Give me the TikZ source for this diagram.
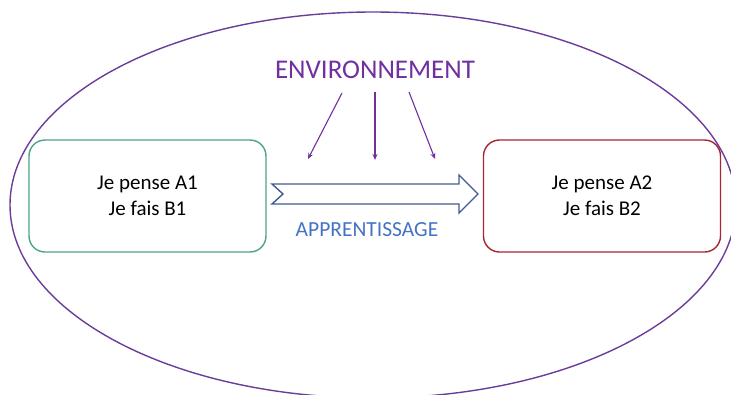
\documentclass[tikz,border=0pt]{standalone}
\usepackage{fontspec}
\setmainfont{Carlito}
\usetikzlibrary{arrows.meta}
\definecolor{envpurple}{HTML}{7030A0}
\definecolor{ringpurple}{HTML}{6A3D9A}
\definecolor{boxgreen}{HTML}{4DA38A}
\definecolor{boxred}{HTML}{A8262F}
\definecolor{learnblue}{HTML}{4472C4}
\definecolor{arrowblue}{HTML}{3F5B91}
\tikzset{
  statebox/.style={draw, line width=1.4pt, rounded corners=16pt,
    minimum width=237pt, minimum height=112pt, align=center,
    font=\fontsize{21}{26}\selectfont, text=black},
  envarrow/.style={draw=envpurple, line width=1.1pt,
    -{Stealth[length=6pt,width=5pt]}},
  blockarrow/.style={draw=arrowblue, line width=1.4pt, line join=miter, fill=white},
}
\begin{document}
\begin{tikzpicture}[x=1pt,y=-1pt]
\useasboundingbox (0,0) rectangle (731,394);
% surrounding environment
\draw[ringpurple, line width=1.4pt] (373,205) ellipse [x radius=363pt, y radius=193pt];
% the two states
\node[statebox, draw=boxgreen] (A) at (147.5,196) {Je pense A1\\Je fais B1};
\node[statebox, draw=boxred] (B) at (602,196) {Je pense A2\\Je fais B2};
% environment label and its influence
\node[text=envpurple, font=\fontsize{27}{30}\selectfont] (env) at (375,70) {ENVIRONNEMENT};
\coordinate (s1) at (342,93);
\coordinate (s2) at (375,92);
\coordinate (s3) at (409,92);
\coordinate (t1) at (308,159);
\coordinate (t2) at (375,160);
\coordinate (t3) at (435,159);
\draw[envarrow] (s1) -- (t1);
\draw[envarrow] (s2) -- (t2);
\draw[envarrow] (s3) -- (t3);
% learning block arrow from A to B
\draw[blockarrow] (272,184) -- (459,184) -- (459,175) -- (478,194)
  -- (459,213) -- (459,204) -- (272,204) -- (283,194) -- cycle;
\node[text=learnblue, font=\fontsize{21.5}{24}\selectfont] (learn) at (367,230) {APPRENTISSAGE};
\end{tikzpicture}
\end{document}
